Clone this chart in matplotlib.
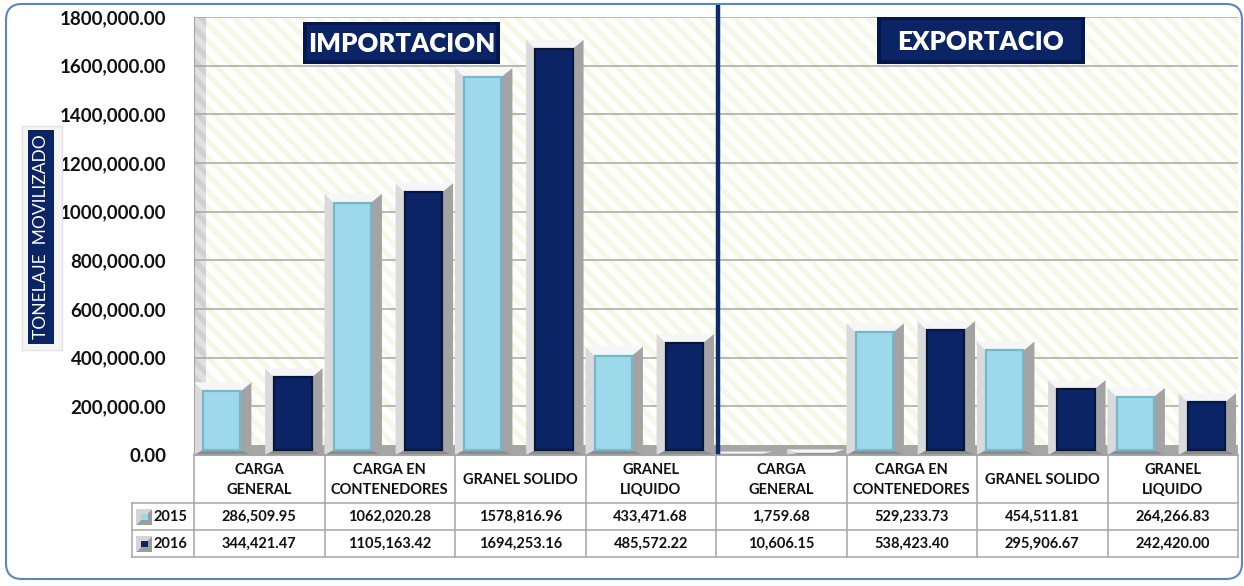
import numpy as np
import matplotlib
matplotlib.use("Agg")
import matplotlib.pyplot as plt
from matplotlib.patches import Rectangle, FancyBboxPatch, Polygon
from matplotlib.transforms import IdentityTransform

# ---------------- data ----------------
categories = ["CARGA\nGENERAL", "CARGA EN\nCONTENEDORES", "GRANEL SOLIDO", "GRANEL\nLIQUIDO",
              "CARGA\nGENERAL", "CARGA EN\nCONTENEDORES", "GRANEL SOLIDO", "GRANEL\nLIQUIDO"]
years = ["2015", "2016"]
v2015 = [286509.95, 1062020.28, 1578816.96, 433471.68, 1759.68, 529233.73, 454511.81, 264266.83]
v2016 = [344421.47, 1105163.42, 1694253.16, 485572.22, 10606.15, 538423.40, 295906.67, 242420.00]
yticks = [0, 200000, 400000, 600000, 800000, 1000000, 1200000, 1400000, 1600000, 1800000]

W, H = 1244, 586
FONT = "Lato"
NAVY = "#0b2466"
LIGHT = "#9ed9eb"
GRID = "#a6a6a6"

plt.rcParams["font.family"] = [FONT, "DejaVu Sans"]
plt.rcParams["hatch.linewidth"] = 4.0

fig = plt.figure(figsize=(W / 100, H / 100), dpi=100)
fig.patch.set_facecolor("white")


def fx(px):
    return px / W


def fy(py):
    return 1 - py / H


# plot area in pixels
L, R, T, B = 194, 1238, 17, 455
ymax = 1800000
ax = fig.add_axes([fx(L), fy(B), fx(R) - fx(L), fy(T) - fy(B)])
ax.set_xlim(0, 8)
ax.set_ylim(0, ymax)
ax.set_facecolor("white")

px_x = 8 / (R - L)          # data units per pixel (x)
px_y = ymax / (B - T)       # data units per pixel (y)

# back wall with pale diagonal stripes
ax.add_patch(Rectangle((0, 0), 8, ymax, facecolor="white", edgecolor="#f5f8e7",
                       hatch="\\\\", lw=0, zorder=0))
# left side wall
ax.add_patch(Rectangle((0, 0), 12 * px_x, ymax, facecolor="#e0e0e0", edgecolor="#d0d0d0",
                       hatch="\\\\", lw=0, zorder=0.5))
# floor
ax.add_patch(Rectangle((0, 0), 8, 10 * px_y, facecolor="#a6a6a6", edgecolor="#9a9a9a",
                       lw=0, zorder=0.6))

for yv in yticks[1:]:
    ax.axhline(yv, color=GRID, lw=1.1, zorder=1)

for s in ["top", "right"]:
    ax.spines[s].set_visible(False)
ax.spines["left"].set_color(GRID)
ax.spines["bottom"].set_color(GRID)
ax.set_xticks([])
ax.set_yticks(yticks)
ax.set_yticklabels([("0.00" if v == 0 else f"{v // 1000:d},000.00") for v in yticks],
                   fontsize=13.5, fontweight="bold", color="#111111")
ax.tick_params(axis="y", length=0, pad=20)


def bar3d(x0, width, value, face, rim):
    h = value + 3 * px_y
    x1 = x0 + width
    dl, dr = 9 * px_x, 11 * px_x
    dt = min(9 * px_y, h * 0.6)
    db = min(5 * px_y, h * 0.3)
    xi0, xi1 = x0 + dl, x1 - dr
    yi0, yi1 = db, h - dt
    ax.add_patch(Polygon([(x0, 0), (x1, 0), (xi1, yi0), (xi0, yi0)], closed=True,
                         facecolor="#8c8c8c", lw=0, zorder=2))
    ax.add_patch(Polygon([(x0, 0), (x0, h), (xi0, yi1), (xi0, yi0)], closed=True,
                         facecolor="#dadada", lw=0, zorder=2))
    ax.add_patch(Polygon([(x1, 0), (x1, h), (xi1, yi1), (xi1, yi0)], closed=True,
                         facecolor="#a3a3a3", lw=0, zorder=2))
    ax.add_patch(Polygon([(x0, h), (x1, h), (xi1, yi1), (xi0, yi1)], closed=True,
                         facecolor="#f6f6f6", lw=0, zorder=2))
    if yi1 - yi0 > 2 * px_y:
        ax.add_patch(Rectangle((xi0, yi0), xi1 - xi0, yi1 - yi0, facecolor=face,
                               edgecolor=rim, lw=1.6, zorder=3))


bw = 0.44
for i in range(len(categories)):
    bar3d(i + 0.0, bw, v2015[i], LIGHT, "#74b8cd")
    bar3d(i + 0.545, bw, v2016[i], NAVY, "#05173f")

# divider between import / export
ax.plot([4 + 2 * px_x, 4 + 2 * px_x], [0, ymax + 13 * px_y], color="#0d2a6b", lw=3.2,
        zorder=4, clip_on=False, solid_capstyle="butt")


# ---------------- overlays in pixel coordinates ----------------
def box_px(x0, y0, x1, y1, **kw):
    return Rectangle((x0, H - y1), x1 - x0, y1 - y0, transform=IdentityTransform(), **kw)


# title boxes
for (x0, y0, x1, y1, label) in [(303, 22, 500, 64, "IMPORTACION"), (877, 17, 1085, 64, "EXPORTACIO")]:
    fig.patches.append(box_px(x0, y0, x1, y1, facecolor="#04184e", edgecolor="none", zorder=5))
    fig.patches.append(box_px(x0 + 4, y0 + 3, x1 - 4, y1 - 4, facecolor=NAVY, edgecolor="none", zorder=5))
    fig.text(fx((x0 + x1) / 2), fy((y0 + y1) / 2 + 1), label, color="white", fontsize=18.5,
             fontweight="heavy", ha="center", va="center", zorder=6)

# y label box
fig.patches.append(box_px(22, 126, 62, 350, facecolor="#f4f4f4", edgecolor="#e2e2e2", lw=1, zorder=5))
fig.patches.append(box_px(28, 130, 54, 344, facecolor=NAVY, edgecolor="none", zorder=5))
fig.text(fx(41), fy(237), "TONELAJE  MOVILIZADO", color="white", fontsize=12.5,
         rotation=90, ha="center", va="center", zorder=6)

# outer rounded border
fig.patches.append(FancyBboxPatch((6, 7), 1236, 575, boxstyle="round,pad=0,rounding_size=16",
                                  transform=IdentityTransform(), facecolor="none",
                                  edgecolor="#5b86c0", lw=1.5, zorder=0))

# ---------------- data table ----------------
TB = 557
tab = fig.add_axes([fx(132), fy(TB), fx(R) - fx(132), fy(B) - fy(TB)])
lab_w = (L - 132) * px_x
tab.set_xlim(-lab_w, 8)
tab.set_ylim(TB - B, 0)
tab.axis("off")
r1, r2 = 48, 75
kw = dict(color=GRID, lw=1.1, clip_on=False)
tab.plot([0, 8], [0, 0], **kw)
for yy in [r1, r2, TB - B]:
    tab.plot([-lab_w, 8], [yy, yy], **kw)
for xx in range(9):
    tab.plot([xx, xx], [0, TB - B], **kw)
tab.plot([-lab_w, -lab_w], [r1, TB - B], **kw)


# thousands formatting like the source (only the last group separated)
def fmt(v):
    s = f"{v:.2f}"
    whole, dec = s.split(".")
    if len(whole) > 3:
        whole = whole[:-3] + "," + whole[-3:]
    return whole + "." + dec


for i, name in enumerate(categories):
    tab.text(i + 0.5, r1 / 2 + 1, name, ha="center", va="center", fontsize=10.5,
             fontweight="bold", color="#111111", linespacing=1.5)
    tab.text(i + 0.5, (r1 + r2) / 2 + 0.5, fmt(v2015[i]), ha="center", va="center",
             fontsize=10.5, fontweight="bold", color="#111111")
    tab.text(i + 0.5, (r2 + TB - B) / 2 + 0.5, fmt(v2016[i]), ha="center", va="center",
             fontsize=10.5, fontweight="bold", color="#111111")

# row labels with small legend keys
for (y0, y1, yr, col) in [(r1, r2, years[0], LIGHT), (r2, TB - B, years[1], NAVY)]:
    yc = (y0 + y1) / 2
    kx = -lab_w + 4 * px_x
    tab.add_patch(Polygon([(kx, yc + 8), (kx + 16 * px_x, yc + 8), (kx + 16 * px_x, yc - 8)],
                          closed=True, facecolor="#9c9c9c", lw=0, clip_on=False))
    tab.add_patch(Polygon([(kx, yc + 8), (kx, yc - 8), (kx + 16 * px_x, yc - 8)],
                          closed=True, facecolor="#d4d4d4", lw=0, clip_on=False))
    tab.add_patch(Rectangle((kx + 5 * px_x, yc - 3), 7 * px_x, 6, facecolor=col, lw=0, clip_on=False))
    tab.text(-lab_w + 22 * px_x, yc + 0.5, yr, ha="left", va="center", fontsize=10.5,
             fontweight="bold", color="#111111")

fig.savefig("out.png", dpi=100)
